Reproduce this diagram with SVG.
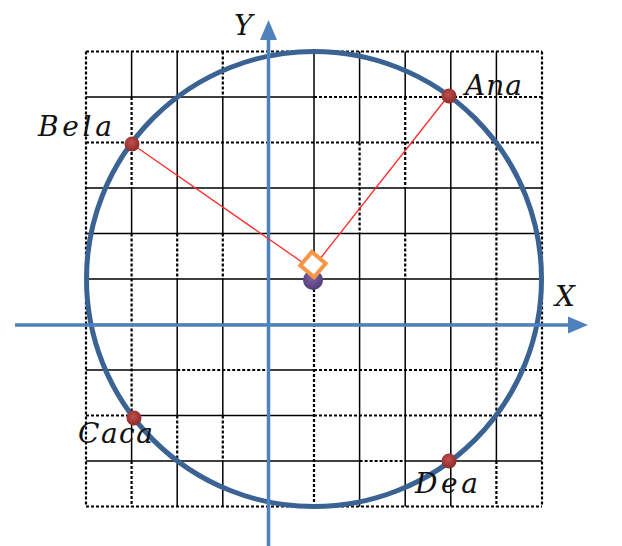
<svg xmlns="http://www.w3.org/2000/svg" width="622" height="546" viewBox="0 0 622 546">
<defs>
<style>
.s{stroke:#000;stroke-width:1.5;fill:none}
.d{stroke:#000;stroke-width:2.2;stroke-dasharray:3 2;fill:none}
.axis{stroke:#4f81bd;stroke-width:3.5;fill:none}
.lbl{font-family:"DejaVu Serif","Liberation Serif",serif;font-style:italic;font-size:28px;fill:#111}
.ray{stroke:#ff2a2a;stroke-width:1.3;fill:none}
.pt{fill:url(#gRed)}
</style>
<radialGradient id="gRed" cx="0.45" cy="0.4" r="0.6">
<stop offset="0" stop-color="#c0504d"/>
<stop offset="1" stop-color="#8c2a2a"/>
</radialGradient>
<radialGradient id="gPur" cx="0.45" cy="0.4" r="0.6">
<stop offset="0" stop-color="#8064a2"/>
<stop offset="1" stop-color="#4f3c78"/>
</radialGradient>
</defs>
<rect width="622" height="546" fill="#fff"/>
<g id="grid">
<path class="d" d="M86 51.5H542M314 97H542M86 142.5H542M177.2 370H268.4M314 370H542M86 415.5H131.6M314 415.5H542M359.6 461H405.2M86 506.5H542"/>
<path class="s" d="M86 97H314M86 188H542M86 233.5H542M86 279H542M86 324.5H542M86 370H177.2M268.4 370H314M131.6 415.5H314M86 461H359.6M405.2 461H542"/>
<path class="d" d="M86 51.5V506.5M131.6 97V188M131.6 233.5V415.5M131.6 461V506.5M177.2 233.5V279M177.2 415.5V461M222.8 51.5V97M222.8 233.5V279M222.8 415.5V461M314 279V506.5M359.6 142.5V233.5M405.2 97V188M405.2 233.5V279M496.4 142.5V415.5M496.4 461V506.5M542 51.5V506.5"/>
<path class="s" d="M131.6 51.5V97M131.6 188V233.5M131.6 415.5V461M177.2 51.5V233.5M177.2 279V415.5M177.2 461V506.5M222.8 97V233.5M222.8 279V415.5M222.8 461V506.5M268.4 51.5V506.5M314 51.5V279M359.6 51.5V142.5M359.6 233.5V506.5M405.2 51.5V97M405.2 188V233.5M405.2 279V506.5M450.8 51.5V506.5M496.4 51.5V142.5M496.4 415.5V461"/>
</g>
<g id="circle">
<circle cx="314" cy="279" r="227.5" fill="none" stroke="#3a6394" stroke-width="5"/>
</g>
<g id="axes">
<line class="axis" x1="15" y1="325" x2="570" y2="325"/>
<polygon points="588,325 568,316.5 568,333.5" fill="#4f81bd"/>
<line class="axis" x1="268.5" y1="546" x2="268.5" y2="38"/>
<polygon points="268.5,20 260,40 277,40" fill="#4f81bd"/>
<text class="lbl" x="555" y="306">X</text>
<text class="lbl" x="234" y="35">Y</text>
</g>
<g id="connectors">
<line class="ray" x1="132" y1="144" x2="312" y2="269"/>
<line class="ray" x1="449" y1="95" x2="312" y2="269"/>
</g>
<g id="center">
<circle cx="313" cy="280" r="10" fill="url(#gPur)"/>
<rect x="304" y="255.5" width="18" height="18" fill="#fff" stroke="#f79646" stroke-width="4" transform="rotate(40 313 264.5)"/>
</g>
<g id="ana"><circle class="pt" cx="449" cy="96" r="7.5"/><text class="lbl" x="465" y="95" textLength="57" lengthAdjust="spacing">Ana</text></g>
<g id="bela"><circle class="pt" cx="132" cy="144" r="7.5"/><text class="lbl" x="38" y="136" textLength="74" lengthAdjust="spacing">Bela</text></g>
<g id="caca"><circle class="pt" cx="134" cy="418" r="7.5"/><text class="lbl" x="78" y="443" textLength="75" lengthAdjust="spacing">Caca</text></g>
<g id="dea"><circle class="pt" cx="449" cy="461" r="7.5"/><text class="lbl" x="415" y="493" textLength="63" lengthAdjust="spacing">Dea</text></g>
</svg>
